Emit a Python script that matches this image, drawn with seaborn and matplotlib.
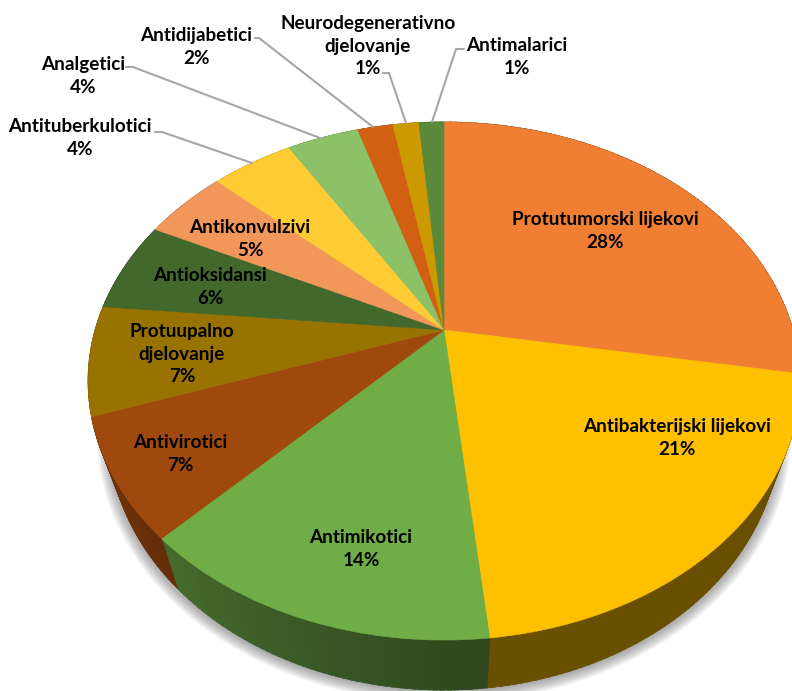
import numpy as np
import matplotlib
matplotlib.use("Agg")
import matplotlib.pyplot as plt
import seaborn as sns
from matplotlib.transforms import Transform

# Data, clockwise from the top of the pie
names = ["Protutumorski lijekovi", "Antibakterijski lijekovi", "Antimikotici", "Antivirotici",
         "Protuupalno\ndjelovanje", "Antioksidansi", "Antikonvulzivi", "Antituberkulotici",
         "Analgetici", "Antidijabetici", "Neurodegenerativno\ndjelovanje", "Antimalarici"]
values = [27.7, 20.6, 13.9, 7.49, 6.8, 5.7, 4.6, 4.49, 3.94, 1.94, 1.43, 1.37]
colors = ["#F07F33", "#FFC000", "#70AD47", "#A0490E", "#997300", "#43682B",
          "#F1975A", "#FFCD33", "#8CC168", "#D26012", "#CC9A00", "#5A8A39"]

# Label placement in pixels (centre of the text block)
label_pos = [(605, 231), (677, 438), (361, 549), (180, 454), (182, 354), (210, 287),
             (250, 239), (80, 138), (83, 76), (196, 47), (368, 46), (517, 57)]

# Leader lines for the small slices
leaders = [
    ([155, 162, 252], [132, 132, 163]),
    ([126, 133, 320], [67, 67, 138]),
    ([255, 259, 373], [38, 38, 127]),
    ([383, 389, 406], [73, 73, 123]),
    ([464, 456, 432], [49, 49, 122]),
]

# Tilt of the pie
cx, cy = 444, 330
rx, ry, k = 349, 249, 0.197
depth = 50
shrink = 0.943


class Tilt(Transform):
    # maps the unit disc of ax.pie to the tilted disc, in pixel coordinates
    input_dims = 2
    output_dims = 2
    is_affine = False

    def transform_non_affine(self, xy):
        xy = np.asarray(xy, dtype=float)
        w = 1 + k * xy[:, 1]
        return np.column_stack([cx + rx * xy[:, 0] / w, cy - ry * xy[:, 1] / w])


tilt = Tilt()


def rim(theta):
    pts = tilt.transform(np.column_stack([np.sin(theta), np.cos(theta)]))
    return pts[:, 0], pts[:, 1]


def lower_rim(theta):
    x, y = rim(theta)
    return cx + shrink * (x - cx), y + depth


sns.set_theme(style="white")
plt.rcParams["font.family"] = ["Lato", "DejaVu Sans"]
palette = sns.color_palette(colors)

fig = plt.figure(figsize=(7.92, 6.91), dpi=100)
ax = fig.add_axes([0, 0, 1, 1])

wedges, _ = ax.pie(values, colors=palette, startangle=90, counterclock=False,
                   wedgeprops={"linewidth": 0.4, "zorder": 3})
for w, c in zip(wedges, palette):
    w.set_edgecolor(c)
    w.set_transform(tilt + ax.transData)

# Soft shadow under the pie
t = np.radians(np.linspace(0, 360, 361))
sx, sy = lower_rim(t)
for d in np.linspace(12, -2, 12):
    f = 1 + d / 350
    ax.fill(cx + (sx - cx) * f, cy + 55 + (sy - cy - 55) * f + 2,
            color="#555555", alpha=0.06, lw=0, zorder=1)

# Side wall, one narrow strip per degree, each overlapping the next to hide seams
edges = np.concatenate([[0], np.cumsum(values)]) / np.sum(values) * 360
for a0, a1, c in zip(edges[:-1], edges[1:], palette):
    steps = np.arange(a0, a1 + 1, 1.0)
    steps[-1] = a1
    for s0, s1 in zip(steps[:-1], steps[1:]):
        tt = np.radians([s0, min(s1 + 0.6, a1)])
        x_up, y_up = rim(tt)
        x_lo, y_lo = lower_rim(tt)
        shade = 0.41 + 0.26 * np.clip((0.5 * (s0 + s1) - 175) / 60, 0, 1)
        col = tuple(np.array(c) * shade)
        ax.fill(np.r_[x_up, x_lo[::-1]], np.r_[y_up, y_lo[::-1]],
                color=col, lw=0.5, zorder=2)

# Labels
for name, v, (x, y) in zip(names, values, label_pos):
    ax.text(x, y, f"{name}\n{v:.0f}%", ha="center", va="center", fontsize=13.6,
            fontweight="bold", color="black", linespacing=1.36, zorder=5)

for lx, ly in leaders:
    ax.plot(lx, ly, color="#A6A6A6", lw=1.5, zorder=4)

ax.set_aspect("auto")
ax.set_xlim(0, 792)
ax.set_ylim(691, 0)
ax.axis("off")

fig.savefig("out.png", dpi=100)
